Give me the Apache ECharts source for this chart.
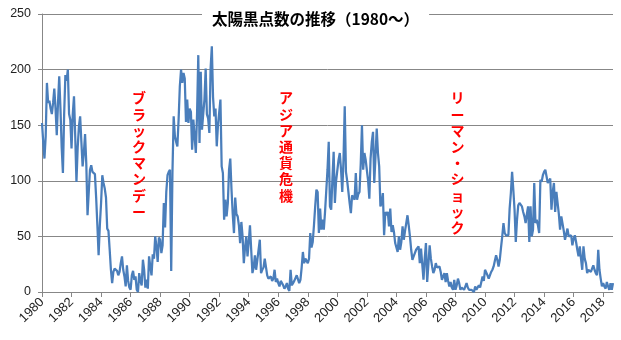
<!DOCTYPE html>
<html><head><meta charset="utf-8">
<script src="https://cdn.jsdelivr.net/npm/echarts@6/dist/echarts.min.js"></script>
<style>html,body{margin:0;padding:0;background:#fff}#c{width:621px;height:340px}</style>
</head><body><div id="c"></div>
<script>
const chartTitle = '太陽黒点数の推移（1980～）';
const startYear = 1980;
// monthly sunspot numbers
const values1980s = [
  152,135,120,140,188,170,172,165,160,170,183,165,
  141,170,194,165,130,107,160,195,190,200,160,155,
  129,160,176,140,99,130,149,158,135,113,125,142,
  115,69,90,110,114,108,107,106,85,60,33,60,
  80,105,98,93,85,57,55,38,20,8,18,21,
  21,19,15,18,26,32,20,14,5,24,10,4,
  2,15,19,11,14,2,0,17,10,6,29,20,
  4,11,3,32,23,15,34,30,50,41,27,49,
  47,35,42,80,58,90,105,108,110,19,107,158,
  140,135,131,155,185,200,188,197,192,153,173,152
];
const values1990s = [
  165,162,128,155,140,125,160,213,134,198,146,160,
  173,201,160,156,143,201,221,175,158,165,131,150,
  150,173,113,107,65,83,68,80,110,120,92,70,
  53,85,70,68,60,44,63,50,26,40,50,32,
  45,60,38,17,22,33,20,29,38,47,17,20,
  22,30,29,15,12,11,14,10,12,20,9,12,
  8,5,10,8,6,3,5,8,3,1,20,6,
  8,10,11,15,14,8,11,22,36,26,30,29,
  26,30,53,40,45,60,77,92,90,53,75,56,
  65,56,72,71,110,135,77,74,102,126,80,100
];
const values2000s = [
  100,119,125,110,90,119,167,108,100,90,80,71,
  87,85,83,107,83,88,90,115,150,110,125,119,
  119,100,84,120,135,144,98,122,147,125,113,77,
  80,89,51,72,69,72,59,75,54,60,54,44,
  40,36,50,38,45,59,47,55,62,69,60,50,
  38,29,32,35,38,38,41,26,39,25,11,30,
  44,9,25,42,30,23,17,20,26,22,21,23,
  18,11,14,17,9,17,10,5,9,4,2,11,
  2,6,12,8,2,4,5,2,3,8,4,2,
  3,2,2,0,5,2,4,6,4,5,14,10
];
const values2010s = [
  20,21,15,12,11,18,20,23,28,33,29,23,
  29,40,50,62,53,51,52,51,75,89,108,92,
  74,45,65,78,80,80,77,72,68,62,70,77,
  45,77,50,56,98,62,65,60,53,101,99,105,
  108,110,111,98,100,102,74,90,98,72,90,89,
  70,56,68,69,55,47,48,57,50,50,51,42,
  48,51,45,38,32,41,30,20,41,30,26,17,
  20,20,18,17,24,20,17,15,38,20,12,5,
  8,5,3,9,5,2,8,2,8
];
const sunspots = values1980s.concat(values1990s, values2000s, values2010s);
const categories = sunspots.map((v, i) => {
  const y = startYear + Math.floor(i / 12), m = i % 12 + 1;
  return y + '/' + (m < 10 ? '0' : '') + m;
});
const tickEveryMonths = 24;
const yMin = 0, yMax = 250, yStep = 50;
const annotationTexts = ['ブラックマンデー', 'アジア通貨危機', 'リーマン・ショック'];
const annotationX = [139, 286, 457.5];

const chart = echarts.init(document.getElementById('c'), null, {renderer: 'canvas'});
const gray = '#878787';
const showTick = (i) => i % tickEveryMonths === 0;
chart.setOption({
  animation: false,
  backgroundColor: '#fff',
  title: {
    text: chartTitle, left: 202, top: 8, padding: [3, 10, 3, 10],
    backgroundColor: '#fff',
    textStyle: {fontSize: 15.5, fontWeight: 'bold', color: '#000', fontFamily: 'Noto Sans CJK JP'}
  },
  grid: {left: 42, right: 8, top: 14, bottom: 48, containLabel: false},
  xAxis: {
    type: 'category', data: categories, boundaryGap: false,
    axisLine: {lineStyle: {color: gray, width: 1}},
    axisTick: {interval: showTick, length: 5, lineStyle: {color: gray}},
    axisLabel: {interval: showTick, rotate: 45, margin: 8, fontSize: 13,
      fontFamily: 'Liberation Sans', color: '#222',
      formatter: (v) => v.slice(0, 4)},
    splitLine: {show: false}
  },
  yAxis: {
    type: 'value', min: yMin, max: yMax, interval: yStep,
    axisLine: {show: true, lineStyle: {color: gray}},
    axisTick: {show: true, length: 4, lineStyle: {color: gray}},
    axisLabel: {margin: 11, fontSize: 12.5, fontFamily: 'Liberation Sans', color: '#222'},
    splitLine: {lineStyle: {color: gray, width: 1}}
  },
  series: [{
    type: 'line', data: sunspots, showSymbol: false, symbol: 'none',
    lineStyle: {color: '#4A7EBB', width: 2.25}, z: 3
  }],
  graphic: annotationTexts.map((t, k) => ({
    type: 'text', x: annotationX[k], y: 90, z: 10,
    style: {text: t.split('').join('\n'), fill: '#FF0000', fontSize: 14, lineHeight: 16.2,
      fontWeight: 'bold', fontFamily: 'Noto Sans CJK JP', align: 'center', verticalAlign: 'top'}
  }))
});
</script></body></html>
